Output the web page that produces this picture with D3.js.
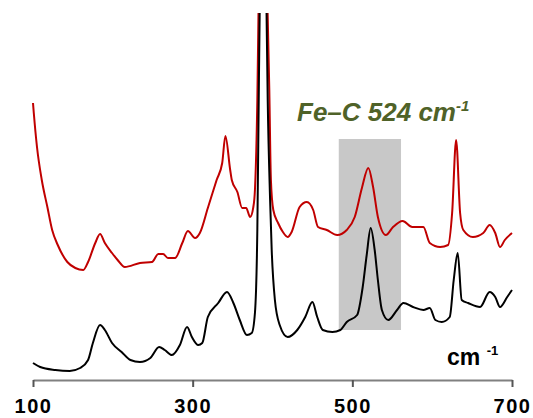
<!DOCTYPE html>
<html>
<head>
<meta charset="utf-8">
<script src="https://cdnjs.cloudflare.com/ajax/libs/d3/7.8.5/d3.min.js"></script>
<style>
    body { margin: 0; background: #fff; }
    .ticklabel { font-family: "Liberation Sans", Arial, sans-serif; font-weight: bold; font-size: 20px; fill: #000; }
    .unitlabel { font-family: "Liberation Sans", Arial, sans-serif; font-weight: bold; fill: #000; }
    .bandlabel { font-family: "Liberation Sans", Arial, sans-serif; font-weight: bold; font-style: italic; fill: #4f6228; }
</style>
</head>
<body>
<div id="chart"></div>
<script>
// Spectrum data (wavenumber in cm-1, intensity in arbitrary units)
var redWave = [100, 101, 105, 111, 118, 124, 131, 143, 153, 163, 169, 178, 184, 190, 199, 206, 215, 234, 249, 257,
               263, 269, 278, 287, 294, 303, 309, 319, 330, 337, 341, 347, 349, 356, 362, 367, 372, 376, 378, 381,
               383, 388, 393, 396, 398, 401, 407, 413, 419, 424, 434, 443, 451, 457, 468, 481, 493, 503, 512, 520,
               526, 532, 542, 551, 563, 575, 589, 597, 610, 620, 625, 630, 635, 639, 651, 664, 672, 679, 685, 691, 700];
var redInt = [277, 267, 233, 200, 173, 150, 135, 118, 112, 110, 118, 137, 146, 137, 127, 120, 113, 117, 118, 126,
              126, 122, 122, 137, 149, 142, 147, 172, 200, 217, 244, 210, 200, 188, 172, 172, 163, 173, 190, 280,
              400, 540, 400, 290, 200, 170, 157, 148, 143, 148, 173, 178, 170, 153, 150, 145, 150, 163, 192, 212,
              193, 163, 145, 153, 159, 153, 153, 137, 133, 135, 167, 240, 167, 150, 143, 147, 155, 147, 133, 140, 147];

var blackWave = [100, 109, 128, 146, 159, 169, 175, 184, 190, 199, 211, 222, 234, 247, 258, 265, 274, 284, 293, 299,
                 307, 312, 319, 332, 343, 351, 359, 368, 374, 378, 381, 383, 388, 392, 394, 397, 399, 403, 409, 419,
                 431, 441, 450, 456, 463, 475, 485, 493, 506, 513, 518, 523, 528, 532, 537, 545, 556, 564, 576, 589,
                 597, 604, 612, 622, 627, 632, 637, 645, 660, 672, 679, 685, 694, 700];
var blackInt = [17, 13, 10, 9, 12, 20, 37, 55, 50, 37, 28, 20, 18, 22, 33, 30, 25, 35, 53, 43,
                35, 37, 63, 77, 88, 77, 60, 45, 47, 67, 150, 300, 560, 400, 280, 180, 130, 80, 55, 43,
                50, 63, 78, 63, 50, 48, 50, 58, 65, 93, 125, 152, 130, 100, 70, 60, 70, 77, 73, 70,
                72, 60, 58, 63, 100, 127, 80, 77, 73, 88, 83, 73, 83, 90];

// Highlighted Fe-C band (wavenumber range and intensity range)
var bandWave = [483, 561];
var bandInt = [50, 241];

// Axis ticks
var tickValues = [100, 300, 500, 700];

// Global variables
var margin = { top: 13, left: 33 },
    basewidth = 533,
    baseheight = 418,
    plotRight = 512,
    plotBottom = 380,
    svg;

// setup x
var xScale = d3.scaleLinear().domain([100, 700]).range([margin.left, plotRight]);

// setup y
var yScale = d3.scaleLinear().domain([0, 367]).range([plotBottom, margin.top]);

createSpectrum();

// ****************************************************************************
// ************************** Start of functions ******************************
// ****************************************************************************

// Function to create the whole chart
function createSpectrum() {
    svg = d3.select("#chart").append("svg")
        .attr("width", basewidth)
        .attr("height", baseheight);

    // Clip so that the tall peak is cut at the top of the plot area
    svg.append("clipPath")
        .attr("id", "clip")
        .append("rect")
        .attr("x", 0)
        .attr("y", margin.top)
        .attr("width", basewidth)
        .attr("height", plotBottom - margin.top);

    // Grey band behind the Fe-C peak
    svg.append("rect")
        .attr("x", xScale(bandWave[0]))
        .attr("y", yScale(bandInt[1]))
        .attr("width", xScale(bandWave[1]) - xScale(bandWave[0]))
        .attr("height", yScale(bandInt[0]) - yScale(bandInt[1]))
        .attr("fill", "#c8c8c8");

    drawLine(redWave, redInt, "#c00000");
    drawLine(blackWave, blackInt, "#000000");

    createAxis();
    createLabels();
}

// Function to draw one spectrum trace
function drawLine(waves, ints, colour) {
    var pts = waves.map(function (w, i) { return [w, ints[i]]; });

    var line = d3.line()
        .x(function (d) { return xScale(d[0]); })
        .y(function (d) { return yScale(d[1]); })
        .curve(d3.curveMonotoneX);

    svg.append("path")
        .datum(pts)
        .attr("d", line)
        .attr("fill", "none")
        .attr("stroke", colour)
        .attr("stroke-width", 2)
        .attr("stroke-linejoin", "round")
        .attr("clip-path", "url(#clip)");
}

// Function which creates the bottom axis
function createAxis() {
    var xAxis = d3.axisBottom(xScale)
        .tickValues(tickValues)
        .tickSize(7)
        .tickSizeOuter(0)
        .tickFormat(d3.format("d"));

    var xaxis_class = svg.append("g")
        .attr("transform", "translate(0," + plotBottom + ")")
        .call(xAxis);

    xaxis_class.select(".domain")
        .attr("stroke", "#808080")
        .attr("stroke-width", 2);

    xaxis_class.selectAll(".tick line")
        .attr("stroke", "#555")
        .attr("stroke-width", 2);

    xaxis_class.selectAll(".tick text")
        .attr("class", "ticklabel")
        .attr("y", 33)
        .attr("dy", null)
        .attr("letter-spacing", 1.5);
}

// Function which adds unit and band labels
function createLabels() {
    var unit = svg.append("text")
        .attr("class", "unitlabel")
        .attr("x", 447)
        .attr("y", 365)
        .style("font-size", "23px")
        .text("cm ");
    unit.append("tspan")
        .attr("dy", -10)
        .style("font-size", "13px")
        .text("-1");

    var band = svg.append("text")
        .attr("class", "bandlabel")
        .attr("x", 297)
        .attr("y", 121)
        .style("font-size", "26px")
        .text("Fe\u2013C 524 cm");
    band.append("tspan")
        .attr("dy", -10)
        .style("font-size", "15px")
        .text("-1");
}
</script>
</body>
</html>
